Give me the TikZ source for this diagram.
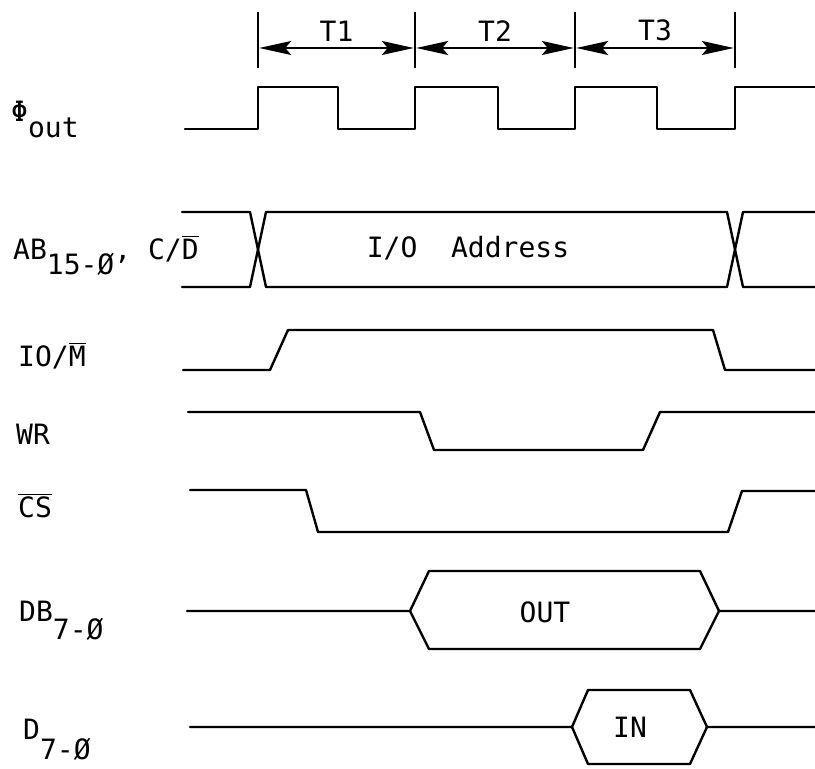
\documentclass[tikz,border=0pt]{standalone}
\usepackage{fontspec}
\newfontfamily\sigfont{DejaVu Sans Mono}
\usetikzlibrary{arrows.meta}

\begin{document}
\begin{tikzpicture}[x=0.5pt, y=-0.5pt, line width=1.2pt,
    font=\sigfont\fontsize{14}{16}\selectfont,
    lbl/.style={inner sep=0pt, anchor=base west},
    sig/.style={line join=round, line cap=round},
    period/.style={{Stealth[length=16pt,width=7pt,inset=3pt]}-{Stealth[length=16pt,width=7pt,inset=3pt]},
      line width=0.9pt, shorten <=0.6pt, shorten >=0.6pt}]
  \useasboundingbox (0,0) rectangle (815,769);

  % period marks T1..T3
  \foreach \n/\x in {0/258,1/415,2/575,3/735} {
    \draw (\x,12) -- (\x,68);
    \coordinate (p\n) at (\x,48);
  }
  \draw[period] (p0) -- node[above, inner sep=3pt] (t1) {T1} (p1);
  \draw[period] (p1) -- node[above, inner sep=3pt] (t2) {T2} (p2);
  \draw[period] (p2) -- node[above, inner sep=3pt] (t3) {T3} (p3);

  % signal names
  \node[lbl] (phi) at (10,122) {Φ\lower8pt\hbox{out}};
  \node[lbl] (ab) at (12,260) {AB\lower7.5pt\hbox{15-Ø}, C/$\overline{\hbox{D}}$};
  \node[lbl] (iom) at (17,367) {IO/$\overline{\hbox{M}}$};
  \node[lbl] (wr) at (15,445) {WR};
  \node[lbl] (cs) at (17,518) {$\overline{\hbox{CS}}$};
  \node[lbl] (db) at (18,622) {DB\lower9pt\hbox{7-Ø}};
  \node[lbl] (d) at (22,740) {D\lower10pt\hbox{7-Ø}};

  % clock
  \draw[sig] (185,129) -- (258,129) |- (338,87) |- (415,129) |- (498,87)
    |- (575,129) |- (657,87) |- (735,129) |- (815,87);

  % address bus
  \draw[sig] (182,212) -- (250,212) -- (266,287) -- (727,287) -- (743,212) -- (815,212);
  \draw[sig] (182,287) -- (250,287) -- (266,212) -- (727,212) -- (743,287) -- (815,287);
  \node (addr) at (468,248) {I/O~~Address};

  % IO/M, WR, CS
  \draw[sig] (183,370) -- (270,370) -- (288,330) -- (713,330) -- (725,370) -- (815,370);
  \draw[sig] (188,412) -- (420,412) -- (434,450) -- (643,450) -- (660,412) -- (815,412);
  \draw[sig] (190,490) -- (306,490) -- (318,532) -- (728,532) -- (742,491) -- (815,491);

  % data bus out
  \draw[sig] (187,611) -- (410,611) -- (429,571) -- (700,571) -- (719,611) -- (815,611);
  \draw[sig] (410,611) -- (429,649) -- (700,649) -- (719,611);
  \node (out) at (545,612) {OUT};

  % data in
  \draw[sig] (190,727) -- (572,727) -- (588,690) -- (690,690) -- (707,727) -- (815,727);
  \draw[sig] (572,727) -- (588,764) -- (690,764) -- (707,727);
  \node (in) at (630,727) {IN};
\end{tikzpicture}
\end{document}
